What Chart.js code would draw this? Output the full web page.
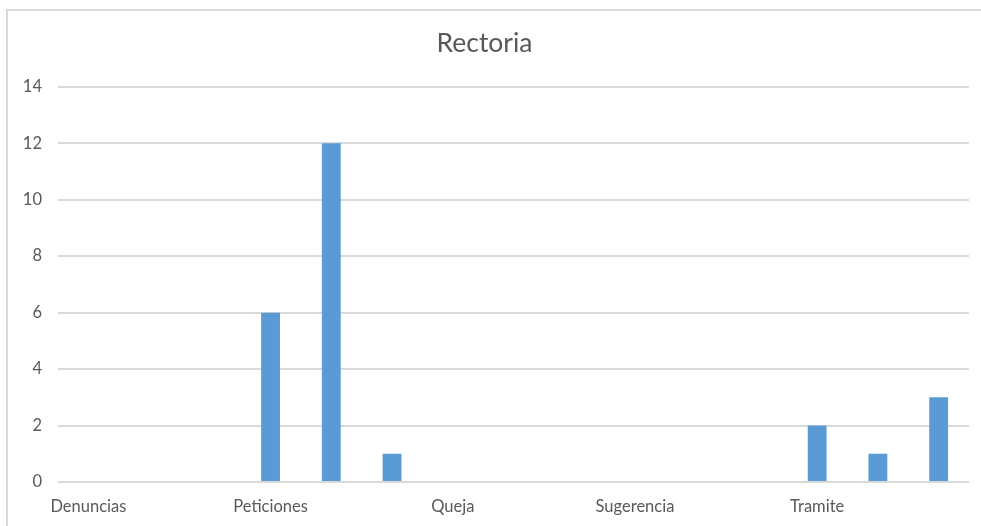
<!DOCTYPE html>
<html>
<head>
<meta charset="utf-8">
<script src="https://cdn.jsdelivr.net/npm/chart.js@4/dist/chart.umd.min.js"></script>
<style>
  html, body { margin: 0; padding: 0; background: #fff; overflow: hidden; }
  #rectoriaChart { display: block; }
</style>
</head>
<body>
<canvas id="rectoriaChart" width="981" height="526"></canvas>
<script>
// categories (Excel only shows every third label)
const categories = [
  'Denuncias', '', '',
  'Peticiones', '', '',
  'Queja', '', '',
  'Sugerencia', '', '',
  'Tramite', '', ''
];
const values = [null, null, null, 6, 12, 1, null, null, null, null, null, null, 2, 1, 3];
const yTicks = [0, 2, 4, 6, 8, 10, 12, 14];

const gray = '#595959';
const font = 'Lato, "Open Sans", sans-serif';

// light frame at the top and left edge, like the cropped Excel chart box
const framePlugin = {
    id: 'frame',
    beforeDraw(chart) {
        const c = chart.ctx;
        c.save();
        c.strokeStyle = '#d9d9d9';
        c.lineWidth = 2;
        c.beginPath();
        c.moveTo(7, chart.height);
        c.lineTo(7, 10);
        c.lineTo(chart.width, 10);
        c.stroke();
        c.restore();
    }
};

const ctx = document.getElementById('rectoriaChart').getContext('2d');
const rectoriaChart = new Chart(ctx, {
    type: 'bar',
    data: {
        labels: categories,
        datasets: [{
            label: 'Rectoria',
            data: values,
            backgroundColor: '#5b9bd5',
            borderWidth: 0,
            categoryPercentage: 1,
            barPercentage: 0.31
        }]
    },
    plugins: [framePlugin],
    options: {
        responsive: false,
        animation: false,
        layout: { padding: { left: 0, right: 12, top: 0, bottom: 4 } },
        plugins: {
            legend: { display: false },
            tooltip: { enabled: false },
            title: {
                display: true,
                text: 'Rectoria',
                color: gray,
                font: { family: font, size: 26.5, weight: 'normal' },
                padding: { top: 28, bottom: 27 }
            }
        },
        scales: {
            x: {
                afterFit: function(scale) { scale.height = 40; },
                grid: { display: false, drawTicks: false },
                border: { display: false },
                ticks: {
                    autoSkip: false,
                    maxRotation: 0,
                    padding: 15,
                    color: gray,
                    font: { family: font, size: 16.5 }
                }
            },
            y: {
                min: yTicks[0],
                max: yTicks[yTicks.length - 1],
                afterFit: function(scale) { scale.width = 58; },
                afterBuildTicks: function(scale) {
                    scale.ticks = yTicks.map(v => ({ value: v }));
                },
                grid: { color: '#d9d9d9', lineWidth: 2, drawTicks: false },
                border: { display: false },
                ticks: {
                    padding: 16,
                    color: gray,
                    font: { family: font, size: 16.5 }
                }
            }
        }
    }
});
</script>
</body>
</html>
